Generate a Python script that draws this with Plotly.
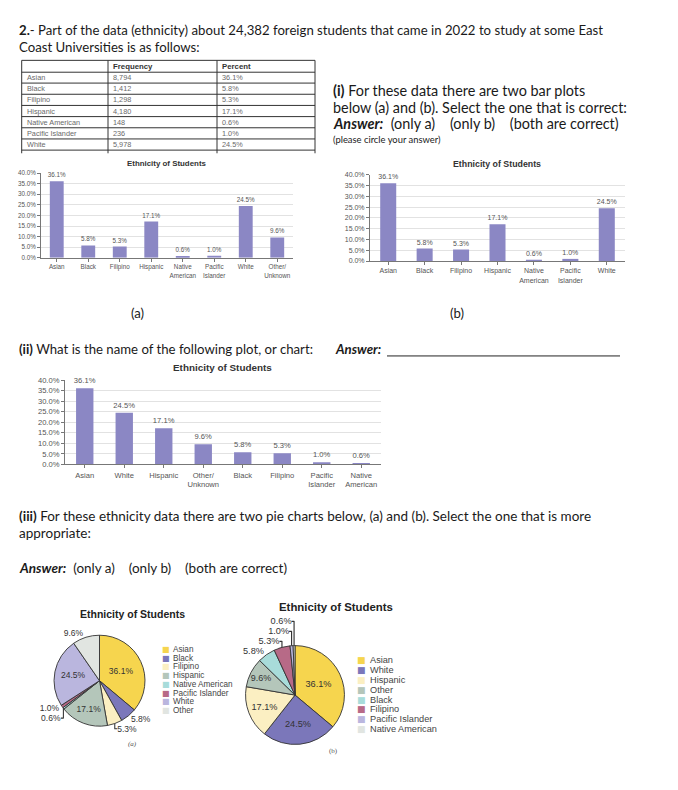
import plotly.graph_objects as go

W, H = 678, 790
def X(px): return px / W
def Y(py): return 1 - py / H

# ---------------- data ----------------
table_header = ["", "Frequency", "Percent"]
table_ethnicity = ["Asian", "Black", "Filipino", "Hispanic", "Native American", "Pacific Islander", "White"]
table_frequency = ["8,794", "1,412", "1,298", "4,180", "148", "236", "5,978"]
table_percent = ["36.1%", "5.8%", "5.3%", "17.1%", "0.6%", "1.0%", "24.5%"]

bar_a_categories = ["Asian", "Black", "Filipino", "Hispanic", "Native American", "Pacific Islander", "White", "Other/Unknown"]
bar_a_values = [36.1, 5.8, 5.3, 17.1, 0.6, 1.0, 24.5, 9.6]

bar_b_categories = ["Asian", "Black", "Filipino", "Hispanic", "Native American", "Pacific Islander", "White"]
bar_b_values = [36.1, 5.8, 5.3, 17.1, 0.6, 1.0, 24.5]

pareto_categories = ["Asian", "White", "Hispanic", "Other/Unknown", "Black", "Filipino", "Pacific Islander", "Native American"]
pareto_values = [36.1, 24.5, 17.1, 9.6, 5.8, 5.3, 1.0, 0.6]

pie_a_labels = ["Asian", "Black", "Filipino", "Hispanic", "Native American", "Pacific Islander", "White", "Other"]
pie_a_values = [36.1, 5.8, 5.3, 17.1, 0.6, 1.0, 24.5, 9.6]

pie_b_labels = ["Asian", "White", "Hispanic", "Other", "Black", "Filipino", "Pacific Islander", "Native American"]
pie_b_values = [36.1, 24.5, 17.1, 9.6, 5.8, 5.3, 1.0, 0.6]

pie_palette = ["#F6D54E", "#7B77BA", "#FBEFC2", "#B4C6BA", "#A8DCDA", "#B76A87", "#BAB6DE", "#E1E5E1"]

wrap = {"Native American": "Native<br>American", "Pacific Islander": "Pacific<br>Islander",
        "Other/Unknown": "Other/<br>Unknown"}

BAR = "#8B87C4"
GRAY = "#555555"
TXT = "#1a1a1a"
MAIN = "Lato"
SANS = "Liberation Sans"
MS = 13.2

fig = go.Figure()
ann = []
shapes = []

def txt(s, x, y, size=MS, anchor="left", color=TXT, family=MAIN):
    ann.append(dict(text=s, x=X(x), y=Y(y), xref="paper", yref="paper", xanchor=anchor, yanchor="middle",
                    showarrow=False, font=dict(family=family, size=size, color=color)))

def line(x0, y0, x1, y1, color="#333", width=1):
    shapes.append(dict(type="line", xref="paper", yref="paper", x0=X(x0), x1=X(x1), y0=Y(y0), y1=Y(y1),
                       line=dict(color=color, width=width)))

# ---------------- table (grid + text) ----------------
col_edges = [21.7, 108, 217, 315]
row_edges = [57, 69, 80, 91.3, 102.6, 113.9, 125.2, 136.5, 147.8]
for xe in col_edges:
    line(xe, row_edges[0], xe, 151)
for ye in row_edges:
    line(col_edges[0], ye, col_edges[-1], ye)
for j, h in enumerate(table_header):
    if h:
        txt(f"<b>{h}</b>", col_edges[j] + 3, (row_edges[0] + row_edges[1]) / 2, size=7.8, color="#333", family=SANS)
for i, row in enumerate(zip(table_ethnicity, table_frequency, table_percent)):
    yc = (row_edges[i + 1] + row_edges[i + 2]) / 2
    for j, v in enumerate(row):
        txt(v, col_edges[j] + 3, yc, size=7.3, color="#6a6a6a", family=SANS)

# ---------------- bar charts ----------------
def add_bar(cats, vals, xa, ya, fs):
    fig.add_trace(go.Bar(
        x=[wrap.get(c, c) for c in cats], y=vals, marker=dict(color=BAR, line=dict(width=0)),
        text=[f"{v:.1f}%" for v in vals], textposition="outside", constraintext="none",
        textfont=dict(family=SANS, size=fs, color=GRAY), cliponaxis=False,
        xaxis=xa, yaxis=ya, showlegend=False, width=0.44))

add_bar(bar_a_categories, bar_a_values, "x", "y", 6.3)
add_bar(bar_b_categories, bar_b_values, "x2", "y2", 7.0)
add_bar(pareto_categories, pareto_values, "x3", "y3", 7.6)

def xax(dom, fs, anchor):
    return dict(domain=[X(dom[0]), X(dom[1])], showline=True, linecolor="#777", linewidth=1,
                ticks="outside", ticklen=3, tickcolor="#777", showgrid=False, fixedrange=True,
                tickfont=dict(family=SANS, size=fs, color=GRAY), type="category", anchor=anchor)

def yax(dom, fs, anchor):
    return dict(domain=[Y(dom[1]), Y(dom[0])], range=[0, 40], dtick=5, tickformat=".1f", ticksuffix="%",
                showline=True, linecolor="#777", linewidth=1, ticks="outside", ticklen=3, tickcolor="#777",
                showgrid=True, gridcolor="#e2e2e2", gridwidth=1, zeroline=False, anchor=anchor,
                tickfont=dict(family=SANS, size=fs, color=GRAY), fixedrange=True)

fig.update_layout(
    xaxis=xax((41, 293), 6.3, "y"),
    yaxis=yax((171, 256.7), 6.3, "x"),
    xaxis2=xax((370, 625), 7.0, "y2"),
    yaxis2=yax((172.7, 260), 7.0, "x2"),
    xaxis3=xax((65, 381), 7.6, "y3"),
    yaxis3=yax((380.4, 465.7), 7.6, "x3"),
)

# ---------------- pies ----------------
def add_pie(labels, vals, dom_x, dom_y, fs, inside_n):
    cut = sorted(vals, reverse=True)[inside_n - 1]
    pos = ["inside" if v >= cut else "outside" for v in vals]
    fig.add_trace(go.Pie(
        labels=labels, values=vals, sort=False, direction="clockwise", rotation=0,
        marker=dict(colors=pie_palette, line=dict(color="#333", width=0.9)),
        texttemplate="%{value:.1f}%", textposition=pos, insidetextorientation="horizontal",
        textfont=dict(family=SANS, size=fs, color="#333"), showlegend=False,
        domain=dict(x=[X(dom_x[0]), X(dom_x[1])], y=[Y(dom_y[1]), Y(dom_y[0])]), hoverinfo="label+value"))

add_pie(pie_a_labels, pie_a_values, (53.5, 145.5), (638.5, 730.5), 8.5, 3)
add_pie(pie_b_labels, pie_b_values, (245, 345), (649, 749), 9.2, 4)

# ---------------- text ----------------
IS = 14.4
txt("<b>2.</b>- Part of the data (ethnicity) about 24,382 foreign students that came in 2022 to study at some East", 17, 26)
txt("Coast Universities is as follows:", 17, 43)
txt("<b>(i)</b> For these data there are two bar plots", 331, 88, size=IS)
txt("below (a) and (b). Select the one that is correct:", 331, 104.5, size=IS)
txt("<b><i>Answer:</i></b>  (only a)    (only b)    (both are correct)", 331, 121, size=IS)
txt("(please circle your answer)", 331, 137.5, size=9.4)
txt("(a)", 137, 313, anchor="center")
txt("(b)", 457, 313, anchor="center")
txt("<b>(ii)</b> What is the name of the following plot, or chart:", 17, 349)
txt("<b><i>Answer:</i></b>", 333, 349)
line(387, 356, 620, 356, color="#222")
txt("<b>(iii)</b> For these ethnicity data there are two pie charts below, (a) and (b). Select the one that is more", 17, 518, size=13.5)
txt("appropriate:", 17, 535, size=13.5)
txt("<b><i>Answer:</i></b>  (only a)    (only b)    (both are correct)", 17, 571, size=13.5)

# chart titles
txt("<b>Ethnicity of Students</b>", 167, 161, size=7.9, anchor="center", color="#333", family=SANS)
txt("<b>Ethnicity of Students</b>", 497, 162, size=8.8, anchor="center", color="#333", family=SANS)
txt("<b>Ethnicity of Students</b>", 222, 368, size=9.9, anchor="center", color="#333", family=SANS)
txt("<b>Ethnicity of Students</b>", 132.5, 617, size=10.5, anchor="center", color="#222", family=SANS)
txt("<b>Ethnicity of Students</b>", 336, 610, size=11.4, anchor="center", color="#222", family=SANS)

# pie legends
for i, (lab, col) in enumerate(zip(pie_a_labels, pie_palette)):
    y = 652.7 + i * 8.86
    txt("■", 165.5, y, size=8, anchor="center", color=col, family="DejaVu Sans")
    txt(lab, 171, y, size=8.2, color="#444", family=SANS)
for i, (lab, col) in enumerate(zip(pie_b_labels, pie_palette)):
    y = 664 + i * 9.9
    txt("■", 361, y, size=9, anchor="center", color=col, family="DejaVu Sans")
    txt(lab, 368, y, size=9.2, color="#444", family=SANS)

txt("<i>(a)</i>", 132, 749, size=7, anchor="center", color="#555", family="Liberation Serif")
txt("(b)", 333, 756, size=7, anchor="center", color="#555", family="Liberation Serif")

fig.update_layout(
    annotations=ann, shapes=shapes,
    width=W, height=H, margin=dict(l=0, r=0, t=0, b=0),
    paper_bgcolor="white", plot_bgcolor="white", bargap=0.56,
)

# remove the browser's default 8px page margin so the 678x790 figure fills the window
fig.write_html("out.html", config={"displayModeBar": False},
               post_script="document.body.style.margin='0px';")
